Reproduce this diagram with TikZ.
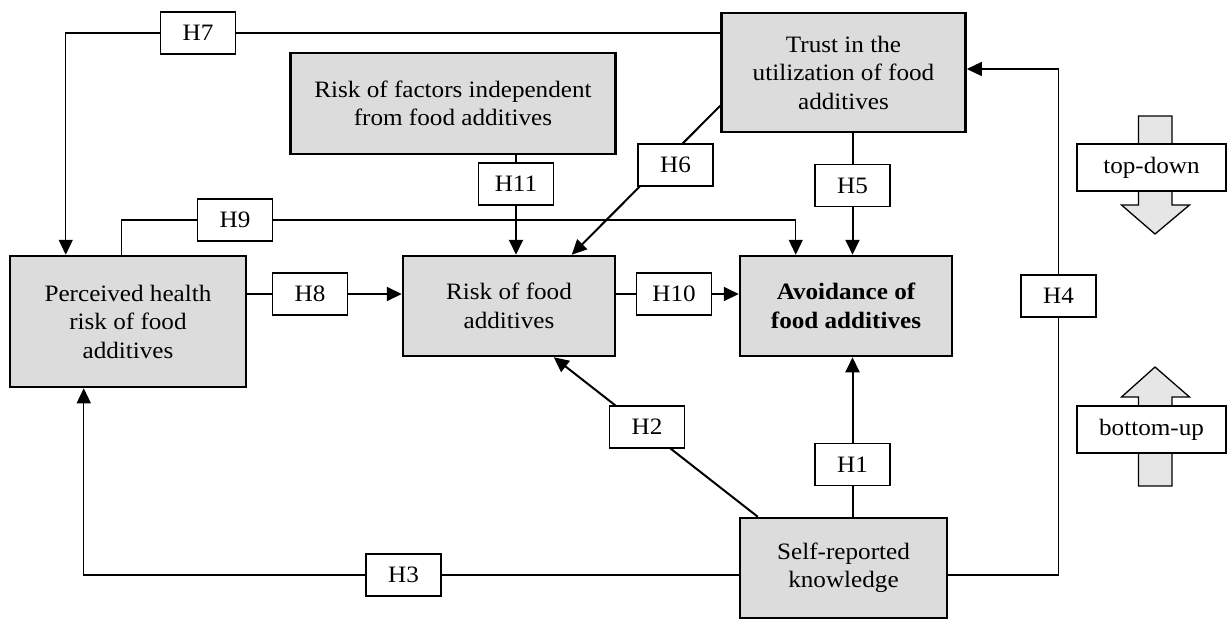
\documentclass[tikz,border=0pt]{standalone}
\usepackage{fontspec}
\setmainfont[FakeStretch=1.07]{Liberation Serif}
\usetikzlibrary{arrows.meta,calc}
\definecolor{boxgray}{HTML}{DCDCDC}
\definecolor{arrowgray}{HTML}{E6E6E6}
\newcommand{\boxfont}{\fontsize{23.5}{28.5}\selectfont}

\begin{document}
\begin{tikzpicture}[x=1pt,y=-1pt,>={Triangle[length=15pt,width=14pt]},
    factor/.style={draw,line width=2.5pt,fill=boxgray,inner sep=0pt,align=center,font=\boxfont},
    hyp/.style={draw,line width=1.3pt,fill=white,minimum width=75pt,minimum height=42pt,inner sep=0pt,font=\boxfont},
    conn/.style={line width=1.3pt},
    strong/.style={line width=2pt}]
    \useasboundingbox (0,0) rectangle (1231,621);
    \node[factor,minimum width=236pt,minimum height=131pt] (perceived) at (128,321.5) {Perceived health\\risk of food\\additives};
    \node[factor,minimum width=212pt,minimum height=100pt] (riskfood) at (509,306) {Risk of food\\additives};
    \node[factor,minimum width=212pt,minimum height=100pt,font=\boxfont\bfseries] (avoid) at (846,306) {Avoidance of\\food additives};
    \node[factor,minimum width=325pt,minimum height=101pt] (riskfactors) at (453,103.5) {Risk of factors independent\\from food additives};
    \node[factor,minimum width=244pt,minimum height=119pt] (trust) at (843.5,72.5) {Trust in the\\utilization of food\\additives};
    \node[factor,minimum width=207pt,minimum height=100pt] (self) at (843.5,568) {Self-reported\\knowledge};

    \node[hyp] (h7) at (198,33) {H7};
    \node[hyp] (h11) at (516,184) {H11};
    \node[hyp] (h9) at (235,220) {H9};
    \node[hyp] (h8) at (310,294) {H8};
    \node[hyp] (h10) at (674,294) {H10};
    \node[hyp] (h5) at (852.5,185.5) {H5};
    \node[hyp] (h4) at (1058.5,296) {H4};
    \node[hyp] (h1) at (852.5,464.5) {H1};
    \node[hyp] (h3) at (403.5,575) {H3};

    \draw[conn] (h7.east) -- (h7 -| trust.west);
    \draw[conn,->] (h7.west) -| ([xshift=57pt]perceived.north west);
    \draw[conn] ([xshift=113pt]perceived.north west) |- (h9.west);
    \draw[conn,->] (h9.east) -| ([xshift=57pt]avoid.north west);
    \draw[strong] (riskfactors.south -| h11) -- (h11.north);
    \draw[strong,->] (h11.south) -- (h11 |- riskfood.north);
    \draw[strong] (trust.south -| h5) -- (h5.north);
    \draw[strong,->] (h5.south) -- (h5 |- avoid.north);
    \draw[strong] (perceived.east |- h8) -- (h8.west);
    \draw[strong,->] (h8.east) -- (h8 -| riskfood.west);
    \draw[strong] (riskfood.east |- h10) -- (h10.west);
    \draw[strong,->] (h10.east) -- (h10 -| avoid.west);
    \draw[strong] (self.north -| h1) -- (h1.south);
    \draw[strong,->] (h1.north) -- (h1 |- avoid.south);
    \draw[conn] (h3 -| self.west) -- (h3.east);
    \draw[conn,->] (h3.west) -| ([xshift=75pt]perceived.south west);
    \draw[conn] (h3 -| self.east) -| (h4.south);
    \draw[conn,->] (h4.north) |- ([yshift=3.5pt]trust.east);
    \draw[strong,->] ([yshift=-94pt]trust.north west) -- ([xshift=170pt]riskfood.north west);
    \node[hyp] (h6) at (675.5,165) {H6};
    \draw[strong,->] ([xshift=19pt]self.north west) -- ([xshift=152pt]riskfood.south west);
    \node[hyp] (h2) at (647,427) {H2};

    \draw[conn,fill=arrowgray] (1138.5,116) -- (1172,116) -- (1172,205) -- (1189.5,205) -- (1155,234) -- (1121.5,205) -- (1138.5,205) -- cycle;
    \node[hyp,minimum width=149pt,minimum height=47pt] (topdown) at (1151.5,167.5) {top-down};
    \draw[conn,fill=arrowgray] (1155,367) -- (1189.5,397) -- (1172,397) -- (1172,486) -- (1138.5,486) -- (1138.5,397) -- (1121.5,397) -- cycle;
    \node[hyp,minimum width=149pt,minimum height=47pt] (bottomup) at (1151.5,429.5) {bottom-up};
\end{tikzpicture}
\end{document}
